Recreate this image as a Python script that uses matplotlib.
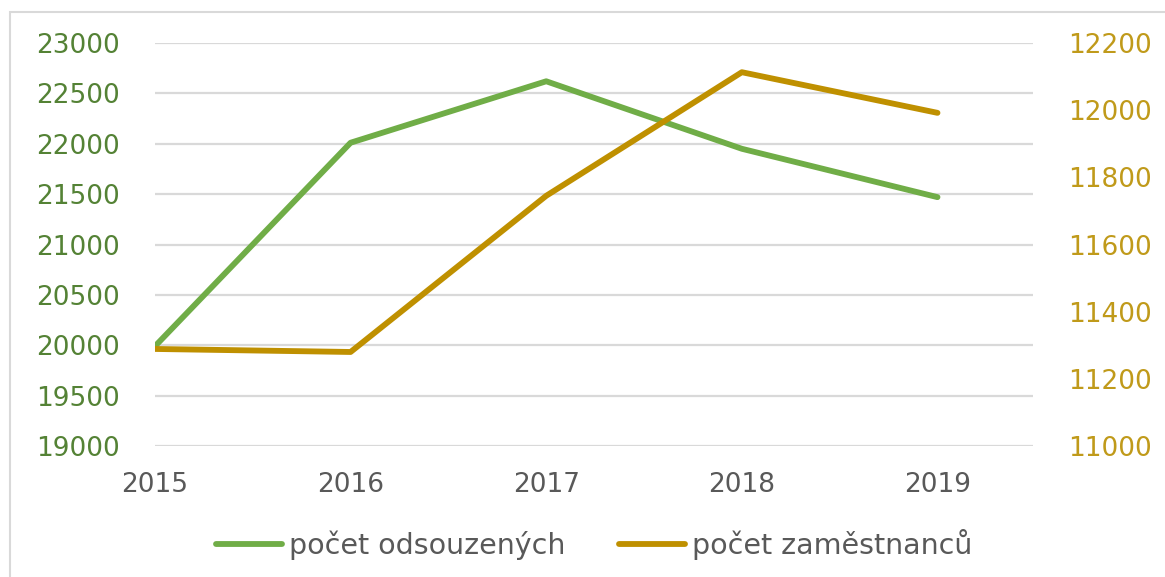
import matplotlib.pyplot as plt
from matplotlib.patches import Rectangle

# Data
years = ["2015", "2016", "2017", "2018", "2019"]
odsouzeni = [19990, 22010, 22620, 21950, 21470]
zamestnanci = [11289, 11280, 11745, 12113, 11992]

GREEN = "#70AD47"
GOLD = "#BF9000"
plt.rcParams['font.family'] = ['DejaVu Sans']

fig = plt.figure(figsize=(11.65, 5.77), dpi=100)
ax = fig.add_axes([0.133, 0.227, 0.754, 0.6985])
ax2 = ax.twinx()

x = list(range(len(years)))
l1, = ax.plot(x, odsouzeni, color=GREEN, linewidth=4.2, solid_capstyle='round',
              solid_joinstyle='round', label="počet odsouzených", zorder=3)
l2, = ax2.plot(x, zamestnanci, color=GOLD, linewidth=4.2, solid_capstyle='round',
               solid_joinstyle='round', label="počet zaměstnanců", zorder=3)

ax.set_xlim(0, 4.49)
ax.set_ylim(19000, 23000)
ax.set_yticks(range(19000, 23001, 500))
ax2.set_ylim(11000, 12200)
ax2.set_yticks(range(11000, 12201, 200))

ax.set_xticks(x)
ax.set_xticklabels(years)
ax.grid(axis='y', color='#D9D9D9', linewidth=1.6)
ax.set_axisbelow(True)

for a in (ax, ax2):
    for s in a.spines.values():
        s.set_visible(False)
    a.tick_params(length=0)

ax.tick_params(axis='y', labelsize=19, labelcolor='#548235', pad=25)
ax.tick_params(axis='x', labelsize=19, labelcolor='#595959', pad=19)
ax2.tick_params(axis='y', labelsize=19, labelcolor='#C09A1A', pad=25)

fig.legend(handles=[l1, l2], loc='center', bbox_to_anchor=(0.51, 0.057), ncol=2,
           frameon=False, fontsize=20.5, labelcolor='#595959', handlelength=2.3,
           handletextpad=0.25, columnspacing=1.9)

# light border of the chart area
fig.patches.append(Rectangle((10 / 1165, -0.1), 1.2, 1.1 - 12 / 577,
                             transform=fig.transFigure, fill=False,
                             edgecolor='#D9D9D9', linewidth=1.5))

fig.savefig("out.png", dpi=100)
